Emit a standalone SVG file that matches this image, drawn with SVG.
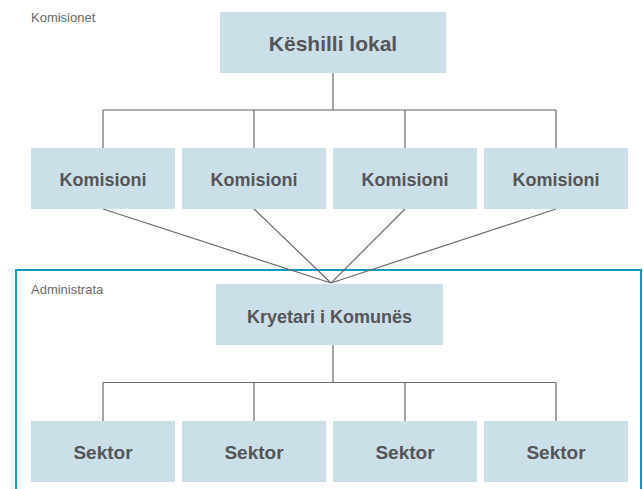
<svg xmlns="http://www.w3.org/2000/svg" width="643" height="489" viewBox="0 0 643 489">
<style>
.box{fill:#cbdfe9}
.lbl{font-family:"Liberation Sans",Arial,sans-serif;font-weight:bold;fill:#555557;text-anchor:middle}
.cap{font-family:"Liberation Sans",Arial,sans-serif;font-size:13px;fill:#6a6a6a}
.con{stroke:#6a6a6a;stroke-width:1.2;fill:none}
</style>
<rect width="643" height="489" fill="#ffffff"/>
<g id="frame">
<rect x="16" y="270" width="625" height="232" fill="none" stroke="#0a9bc2" stroke-width="2"/>
</g>
<text class="cap" x="31" y="21.5">Komisionet</text>
<text class="cap" x="31" y="293.5">Administrata</text>
<g id="connectors">
<path class="con" d="M333 73V110M103 110H556M103 110V148M254 110V148M405 110V148M556 110V148"/>
<path class="con" d="M103 209L331 283M254 209L331 283M405 209L331 283M556 209L331 283"/>
<path class="con" d="M333 345V382.5M103 382.5H556M103 382.5V421M254 382.5V421M405 382.5V421M556 382.5V421"/>
</g>
<g id="keshilli"><rect class="box" x="220" y="12" width="226" height="61"/><text class="lbl" x="333" y="51" font-size="21">Këshilli lokal</text></g>
<g id="komisioni1"><rect class="box" x="31" y="148" width="144" height="61"/><text class="lbl" x="103" y="186" font-size="18">Komisioni</text></g>
<g id="komisioni2"><rect class="box" x="182" y="148" width="144" height="61"/><text class="lbl" x="254" y="186" font-size="18">Komisioni</text></g>
<g id="komisioni3"><rect class="box" x="333" y="148" width="144" height="61"/><text class="lbl" x="405" y="186" font-size="18">Komisioni</text></g>
<g id="komisioni4"><rect class="box" x="484" y="148" width="144" height="61"/><text class="lbl" x="556" y="186" font-size="18">Komisioni</text></g>
<g id="kryetari"><rect class="box" x="216" y="284" width="227" height="61"/><text class="lbl" x="329.5" y="323" font-size="18">Kryetari i Komunës</text></g>
<g id="sektor1"><rect class="box" x="31" y="421" width="144" height="61"/><text class="lbl" x="103" y="459" font-size="19">Sektor</text></g>
<g id="sektor2"><rect class="box" x="182" y="421" width="144" height="61"/><text class="lbl" x="254" y="459" font-size="19">Sektor</text></g>
<g id="sektor3"><rect class="box" x="333" y="421" width="144" height="61"/><text class="lbl" x="405" y="459" font-size="19">Sektor</text></g>
<g id="sektor4"><rect class="box" x="484" y="421" width="144" height="61"/><text class="lbl" x="556" y="459" font-size="19">Sektor</text></g>
</svg>
